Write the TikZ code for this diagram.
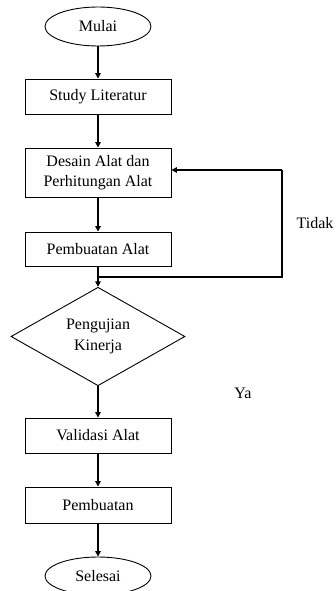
\documentclass[tikz,border=0pt]{standalone}
\usepackage{fontspec}
\setmainfont{Liberation Serif}
\usetikzlibrary{shapes.geometric,arrows.meta}
\begin{document}
\begin{tikzpicture}[x=1pt,y=-1pt,
  font=\fontsize{16}{20.5}\selectfont,
  box/.style={draw,line width=0.9pt,rectangle,minimum width=146pt,inner sep=0pt,align=center},
  term/.style={draw,line width=0.9pt,ellipse,minimum width=106pt,minimum height=39pt,inner sep=0pt},
  dec/.style={draw,line width=0.9pt,diamond,minimum width=174pt,minimum height=97pt,inner sep=0pt,align=center},
  arr/.style={line width=1.8pt,-{Triangle[length=5.5pt,width=5.5pt]}},
  lin/.style={line width=1.8pt}]
\useasboundingbox (0,0) rectangle (335,591);
\node[term] (mulai) at (98,26.5) {Mulai};
\node[box,minimum height=35pt] (study) at (98,96.5) {Study Literatur};
\node[box,minimum height=49pt] (desain) at (98,172.5) {Desain Alat dan\\Perhitungan Alat};
\node[box,minimum height=34pt] (pembalat) at (98,249) {Pembuatan Alat};
\node[dec] (uji) at (98,336.5) {Pengujian\\Kinerja};
\node[box,minimum height=35pt] (valid) at (98,435.5) {Validasi Alat};
\node[box,minimum height=36pt] (pemb) at (98,505) {Pembuatan};
\node[term,minimum height=38pt] (selesai) at (98,576) {Selesai};
\node (tidak) at (315,223) {Tidak};
\node (ya) at (243,393) {Ya};
\coordinate (j) at (98,277);
\coordinate (r1) at (282,277);
\coordinate (r2) at (282,170);
\draw[arr] (mulai) -- (study);
\draw[arr] (study) -- (desain);
\draw[arr] (desain) -- (pembalat);
\draw[arr] (pembalat) -- (uji.north);
\draw[lin] (j) -- (r1) -- (r2);
\draw[arr] (r2) -- (desain.east |- r2);
\draw[arr] (uji.south) -- (valid);
\draw[arr] (valid) -- (pemb);
\draw[arr] (pemb) -- (selesai);
\end{tikzpicture}
\end{document}
